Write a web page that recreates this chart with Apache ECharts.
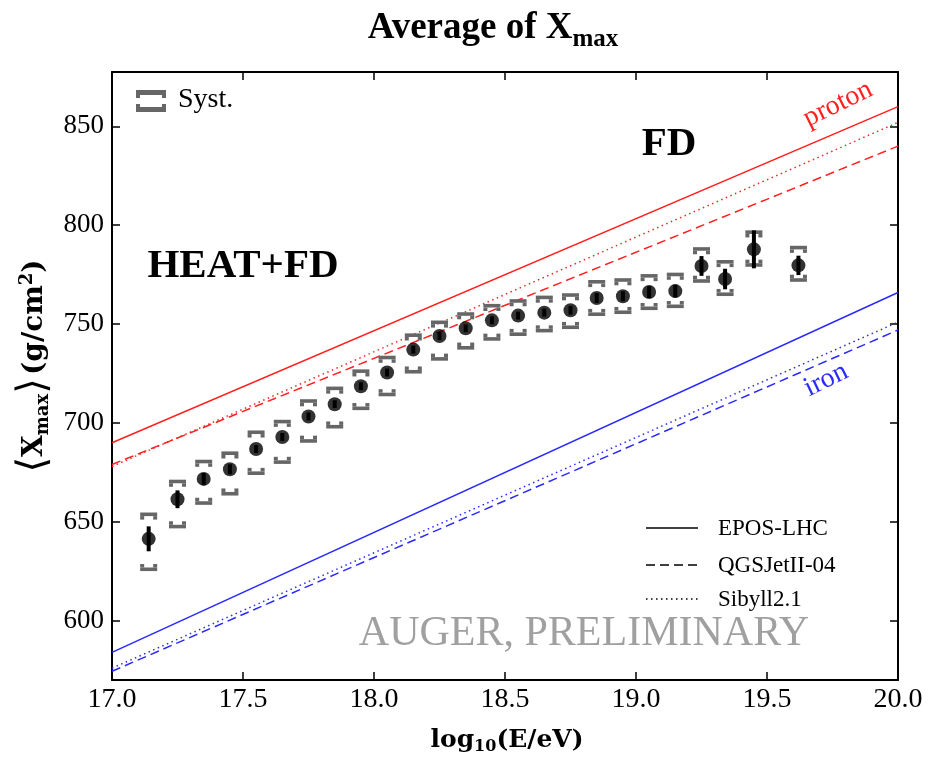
<!DOCTYPE html>
<html>
<head>
<meta charset="utf-8">
<script src="https://cdn.jsdelivr.net/npm/echarts@6/dist/echarts.min.js"></script>
<style>
html,body{margin:0;padding:0;background:#fff;}
#chart{width:928px;height:758px;}
</style>
</head>
<body>
<div id="chart"></div>
<script>
// ---- data ----
const energy = [17.14, 17.25, 17.35, 17.45, 17.55, 17.65, 17.75, 17.85, 17.95, 18.05, 18.15, 18.25, 18.35, 18.45, 18.55, 18.65, 18.75, 18.85, 18.95, 19.05, 19.15, 19.25, 19.34, 19.45, 19.62];
const xmaxMean = [641.4, 661.4, 671.7, 676.6, 686.8, 692.9, 703.3, 709.5, 718.6, 725.5, 737.1, 744.0, 747.9, 751.9, 754.3, 755.8, 757.0, 763.2, 764.1, 766.2, 766.7, 779.4, 772.8, 787.8, 779.7];
const statErr = [6.3, 4.5, 3.0, 2.5, 2.0, 2.0, 2.0, 2.0, 2.0, 2.0, 2.0, 2.0, 2.0, 2.0, 2.0, 2.0, 2.2, 2.5, 2.5, 3.0, 3.2, 5.0, 5.2, 9.6, 4.9];
const systUp = [12.4, 9.0, 8.8, 8.1, 8.5, 7.8, 7.8, 8.0, 7.6, 7.6, 7.3, 6.9, 7.2, 7.4, 7.4, 7.7, 7.7, 8.2, 8.2, 8.2, 8.4, 8.6, 8.7, 8.7, 9.0];
const systDown = [15.4, 13.8, 12.2, 12.4, 12.2, 12.7, 12.4, 11.4, 11.2, 11.1, 11.2, 11.6, 9.9, 9.4, 9.4, 9.1, 8.6, 8.2, 8.1, 8.2, 7.7, 7.6, 7.7, 7.9, 7.4];

const modelX = [17.0, 20.0];
const protonEPOS = [690, 860];
const protonQGS = [679, 840];
const protonSIB = [678, 852];
const ironEPOS = [584, 766];
const ironQGS = [574.4, 747];
const ironSIB = [576, 751];

const yTicks = [600, 650, 700, 750, 800, 850];
const legendNames = ['EPOS-LHC', 'QGSJetII-04', 'Sibyll2.1'];

// ---- chart ----
const chart = echarts.init(document.getElementById('chart'), null, {renderer: 'canvas'});
const SERIF = 'Liberation Serif';
const RED = '#ff2020', BLUE = '#2a2aff', GRAY = '#666666';
const DASH = [9, 5], DOT = [1.5, 3.5];

function modelSeries(vals, color, dash) {
  return {
    type: 'line', xAxisIndex: 0, yAxisIndex: 0, silent: true, symbol: 'none',
    data: modelX.map((x, i) => [x, vals[i]]),
    lineStyle: {color: color, width: 1.5, type: dash || 'solid'},
    z: 2
  };
}

const axisLineStyle = {show: true, lineStyle: {color: '#000', width: 2}};
const tickStyle = {show: true, inside: true, length: 8, lineStyle: {color: '#000', width: 1.5}};

const option = {
  animation: false,
  backgroundColor: '#fff',
  grid: {left: 112, right: 30, top: 72, bottom: 78, containLabel: false},
  xAxis: [
    {type: 'value', min: 17, max: 20, interval: 0.5, position: 'bottom',
     axisLine: axisLineStyle, axisTick: tickStyle, splitLine: {show: false},
     axisLabel: {fontFamily: SERIF, fontSize: 28, color: '#000', margin: 6,
                 formatter: v => v.toFixed(1)}},
    {type: 'value', min: 17, max: 20, interval: 0.5, position: 'top',
     axisLine: axisLineStyle, axisTick: tickStyle, splitLine: {show: false},
     axisLabel: {show: false}}
  ],
  yAxis: [
    {type: 'value', min: 570, max: 877.5, position: 'left',
     axisLine: axisLineStyle, splitLine: {show: false},
     axisTick: Object.assign({}, tickStyle, {customValues: yTicks}),
     axisLabel: {customValues: yTicks, fontFamily: SERIF, fontSize: 27, color: '#000', margin: 8}},
    {type: 'value', min: 570, max: 877.5, position: 'right',
     axisLine: axisLineStyle, splitLine: {show: false},
     axisTick: Object.assign({}, tickStyle, {customValues: yTicks}),
     axisLabel: {show: false, customValues: yTicks}}
  ],
  series: [
    modelSeries(protonEPOS, RED),
    modelSeries(protonQGS, RED, DASH),
    modelSeries(protonSIB, RED, DOT),
    modelSeries(ironEPOS, BLUE),
    modelSeries(ironQGS, BLUE, DASH),
    modelSeries(ironSIB, BLUE, DOT),
    {
      type: 'custom', silent: true, z: 3,
      data: energy.map((e, i) => [e, xmaxMean[i], systUp[i], systDown[i]]),
      renderItem: function (params, api) {
        const x = api.value(0), y = api.value(1), up = api.value(2), dn = api.value(3);
        const pt = api.coord([x, y + up]);
        const pb = api.coord([x, y - dn]);
        const w = 17, h = 3.6, lw = 4, lh = 3.5;
        const st = {fill: GRAY};
        return {type: 'group', children: [
          {type: 'rect', shape: {x: pt[0] - w / 2, y: pt[1] - h / 2, width: w, height: h}, style: st},
          {type: 'rect', shape: {x: pt[0] - w / 2, y: pt[1] + h / 2, width: lw, height: lh}, style: st},
          {type: 'rect', shape: {x: pt[0] + w / 2 - lw, y: pt[1] + h / 2, width: lw, height: lh}, style: st},
          {type: 'rect', shape: {x: pb[0] - w / 2, y: pb[1] - h / 2, width: w, height: h}, style: st},
          {type: 'rect', shape: {x: pb[0] - w / 2, y: pb[1] - h / 2 - lh, width: lw, height: lh}, style: st},
          {type: 'rect', shape: {x: pb[0] + w / 2 - lw, y: pb[1] - h / 2 - lh, width: lw, height: lh}, style: st}
        ]};
      }
    },
    {
      type: 'custom', silent: true, z: 4,
      data: energy.map((e, i) => [e, xmaxMean[i], statErr[i]]),
      renderItem: function (params, api) {
        const x = api.value(0), y = api.value(1), er = api.value(2);
        const a = api.coord([x, y + er]);
        const b = api.coord([x, y - er]);
        return {type: 'rect', shape: {x: a[0] - 2, y: a[1], width: 4, height: b[1] - a[1]}, style: {fill: '#000'}};
      }
    },
    {
      type: 'scatter', silent: true, z: 5, symbol: 'circle', symbolSize: 14,
      itemStyle: {color: '#000'},
      data: energy.map((e, i) => [e, xmaxMean[i]])
    }
  ],
  graphic: [
    // title
    {type: 'text', x: 493, y: 28, style: {
      text: '{a|Average of X}{s|max}', align: 'center', verticalAlign: 'middle',
      rich: {
        a: {fontFamily: SERIF, fontWeight: 'bold', fontSize: 37, fill: '#000', lineHeight: 44},
        s: {fontFamily: SERIF, fontWeight: 'bold', fontSize: 25, fill: '#000', padding: [24, 0, 0, 0], lineHeight: 44}
      }}},
    // x axis name
    {type: 'text', x: 507, y: 740, style: {
      text: '{a|log}{s|10}{a|(E/eV)}', align: 'center', verticalAlign: 'middle',
      rich: {
        a: {fontFamily: 'DejaVu Serif', fontWeight: 'bold', fontSize: 25, fill: '#000', lineHeight: 34},
        s: {fontFamily: 'DejaVu Serif', fontWeight: 'bold', fontSize: 16, fill: '#000', padding: [14, 0, 0, 0], lineHeight: 34}
      }}},
    // y axis name
    {type: 'text', x: 35, y: 366, rotation: Math.PI / 2, style: {
      text: '{b|⟨}{a|X}{s|max}{b|⟩} {a|(g/cm}{p|2}{a|)}', align: 'center', verticalAlign: 'middle',
      rich: {
        a: {fontFamily: 'DejaVu Serif', fontWeight: 'bold', fontSize: 28, fill: '#000', lineHeight: 44},
        b: {fontFamily: 'DejaVu Sans', fontWeight: 'normal', fontSize: 40, fill: '#000', lineHeight: 44},
        s: {fontFamily: 'DejaVu Serif', fontWeight: 'bold', fontSize: 18, fill: '#000', padding: [16, 0, 0, 0], lineHeight: 44},
        p: {fontFamily: 'DejaVu Serif', fontWeight: 'bold', fontSize: 18, fill: '#000', padding: [0, 0, 16, 0], lineHeight: 44}
      }}},
    // Syst. legend
    {type: 'rect', shape: {x: 136, y: 90, width: 30, height: 5}, style: {fill: GRAY}},
    {type: 'rect', shape: {x: 136, y: 95, width: 4, height: 3}, style: {fill: GRAY}},
    {type: 'rect', shape: {x: 162, y: 95, width: 4, height: 3}, style: {fill: GRAY}},
    {type: 'rect', shape: {x: 136, y: 107, width: 30, height: 5}, style: {fill: GRAY}},
    {type: 'rect', shape: {x: 136, y: 104, width: 4, height: 3}, style: {fill: GRAY}},
    {type: 'rect', shape: {x: 162, y: 104, width: 4, height: 3}, style: {fill: GRAY}},
    {type: 'text', x: 178, y: 100, style: {text: 'Syst.', fontFamily: SERIF, fontSize: 28, fill: '#000', verticalAlign: 'middle'}},
    // region labels
    {type: 'text', x: 243, y: 266, style: {text: 'HEAT+FD', fontFamily: SERIF, fontWeight: 'bold', fontSize: 41, fill: '#000', align: 'center', verticalAlign: 'middle'}},
    {type: 'text', x: 669, y: 144, style: {text: 'FD', fontFamily: SERIF, fontWeight: 'bold', fontSize: 41, fill: '#000', align: 'center', verticalAlign: 'middle'}},
    // model labels
    {type: 'text', x: 838, y: 104, rotation: 26 * Math.PI / 180, style: {text: 'proton', fontFamily: SERIF, fontSize: 28, fill: RED, align: 'center', verticalAlign: 'middle'}},
    {type: 'text', x: 826, y: 380, rotation: 26 * Math.PI / 180, style: {text: 'iron', fontFamily: SERIF, fontSize: 28, fill: BLUE, align: 'center', verticalAlign: 'middle'}},
    // watermark
    {type: 'text', x: 584, y: 634, style: {text: 'AUGER, PRELIMINARY', fontFamily: SERIF, fontSize: 42, fill: '#a0a0a0', align: 'center', verticalAlign: 'middle'}},
    // model legend
    {type: 'line', shape: {x1: 646, y1: 528, x2: 698, y2: 528}, style: {stroke: '#000', lineWidth: 1.5}},
    {type: 'line', shape: {x1: 646, y1: 565, x2: 698, y2: 565}, style: {stroke: '#000', lineWidth: 1.5, lineDash: DASH}},
    {type: 'line', shape: {x1: 646, y1: 599, x2: 698, y2: 599}, style: {stroke: '#000', lineWidth: 1.5, lineDash: DOT}},
    {type: 'text', x: 718, y: 529, style: {text: legendNames[0], fontFamily: SERIF, fontSize: 23, fill: '#000', verticalAlign: 'middle'}},
    {type: 'text', x: 718, y: 566, style: {text: legendNames[1], fontFamily: SERIF, fontSize: 23, fill: '#000', verticalAlign: 'middle'}},
    {type: 'text', x: 718, y: 600, style: {text: legendNames[2], fontFamily: SERIF, fontSize: 23, fill: '#000', verticalAlign: 'middle'}}
  ]
};
chart.setOption(option);
</script>
</body>
</html>
